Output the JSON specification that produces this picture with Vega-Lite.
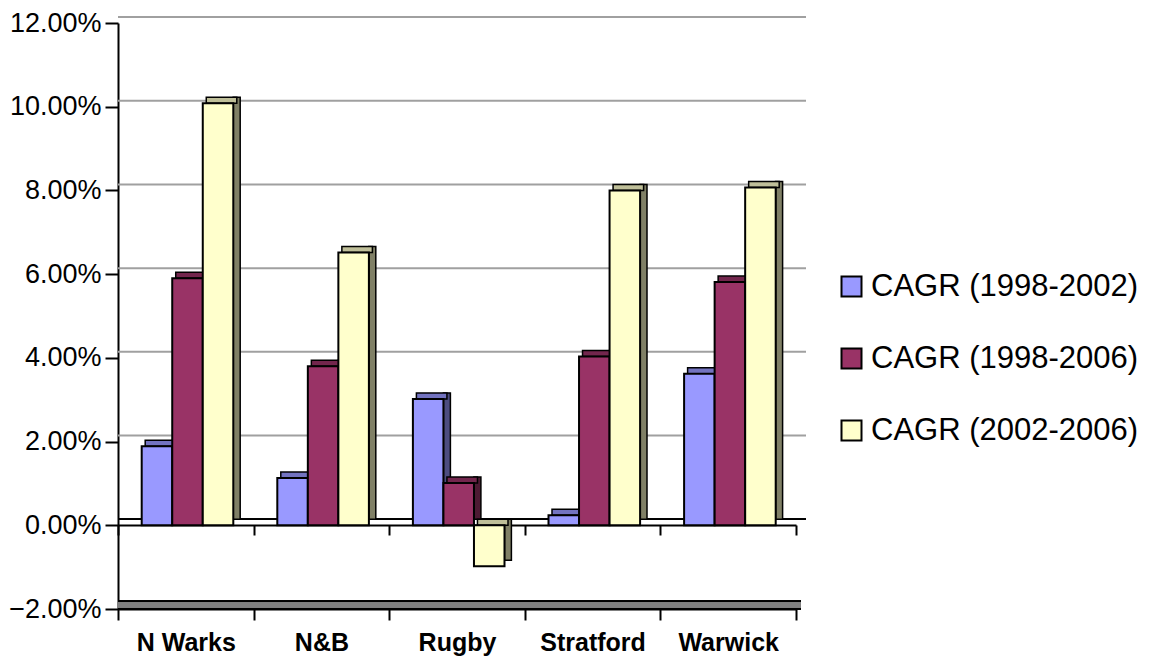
{
  "$schema": "https://vega.github.io/schema/vega-lite/v6.json",
  "width": 678,
  "height": 586,
  "autosize": "none",
  "padding": {"left": 118, "top": 23, "right": 357, "bottom": 49},
  "background": "white",
  "config": {
    "view": {"stroke": null},
    "font": "Liberation Sans",
    "axis": {"labelFont": "Liberation Sans", "labelColor": "black"},
    "axisY": {"title": null, "format": ".2%",
              "grid": false, "domainColor": "black", "domainWidth": 2, "tickColor": "black", "tickWidth": 2,
              "tickSize": 13, "labelFontSize": 27, "labelPadding": 4}
  },
  "datasets": {
    "bars": [
      {"region": "N Warks", "series": "CAGR (1998-2002)", "value": 0.0189},
      {"region": "N Warks", "series": "CAGR (1998-2006)", "value": 0.0590},
      {"region": "N Warks", "series": "CAGR (2002-2006)", "value": 0.1008},
      {"region": "N&B", "series": "CAGR (1998-2002)", "value": 0.0113},
      {"region": "N&B", "series": "CAGR (1998-2006)", "value": 0.0380},
      {"region": "N&B", "series": "CAGR (2002-2006)", "value": 0.0652},
      {"region": "Rugby", "series": "CAGR (1998-2002)", "value": 0.0302},
      {"region": "Rugby", "series": "CAGR (1998-2006)", "value": 0.0101},
      {"region": "Rugby", "series": "CAGR (2002-2006)", "value": -0.0098},
      {"region": "Stratford", "series": "CAGR (1998-2002)", "value": 0.0024},
      {"region": "Stratford", "series": "CAGR (1998-2006)", "value": 0.0403},
      {"region": "Stratford", "series": "CAGR (2002-2006)", "value": 0.0800},
      {"region": "Warwick", "series": "CAGR (1998-2002)", "value": 0.0362},
      {"region": "Warwick", "series": "CAGR (1998-2006)", "value": 0.0581},
      {"region": "Warwick", "series": "CAGR (2002-2006)", "value": 0.0807}
    ],
    "grid": [
      {"level": 0.02}, {"level": 0.04}, {"level": 0.06},
      {"level": 0.08}, {"level": 0.10}, {"level": 0.12}
    ]
  },
  "resolve": {
    "scale": {"xOffset": "independent", "color": "independent"},
    "axis": {"x": "independent"}
  },
  "layer": [
    {
      "data": {"name": "grid"},
      "mark": {"type": "rule", "color": "#a0a0a0", "strokeWidth": 2, "xOffset": 10, "yOffset": -6, "clip": false},
      "encoding": {
        "y": {"field": "level", "type": "quantitative", "scale": {"domain": [-0.02, 0.12], "nice": false, "zero": false},
              "axis": {"title": null, "values": [-0.02, 0, 0.02, 0.04, 0.06, 0.08, 0.1, 0.12]}}
      }
    },
    {
      "data": {"name": "grid"},
      "mark": {"type": "rule", "color": "black", "strokeWidth": 1.5, "xOffset": 10, "yOffset": -6},
      "encoding": {
        "y": {"datum": 0, "type": "quantitative", "axis": {"title": null, "values": [-0.02, 0, 0.02, 0.04, 0.06, 0.08, 0.1, 0.12]}}
      }
    },
    {
      "data": {"name": "grid"},
      "mark": {"type": "rule", "color": "black", "strokeWidth": 9, "xOffset": 5, "yOffset": -4},
      "encoding": {
        "y": {"datum": -0.02, "type": "quantitative", "axis": {"title": null, "values": [-0.02, 0, 0.02, 0.04, 0.06, 0.08, 0.1, 0.12]}}
      }
    },
    {
      "data": {"name": "grid"},
      "mark": {"type": "rule", "color": "#808080", "strokeWidth": 5, "xOffset": 5, "yOffset": -4},
      "encoding": {
        "y": {"datum": -0.02, "type": "quantitative", "axis": {"title": null, "values": [-0.02, 0, 0.02, 0.04, 0.06, 0.08, 0.1, 0.12]}}
      }
    },
    {
      "data": {"name": "bars"},
      "mark": {"type": "bar", "stroke": "black", "strokeWidth": 1.5, "yOffset": -6},
      "encoding": {
        "x": {"field": "region", "type": "nominal", "sort": null,
              "scale": {"paddingInner": 0, "paddingOuter": 0},
              "axis": {"orient": "bottom", "offset": -84, "labels": false, "title": null, "tickBand": "extent",
                       "domainColor": "black", "domainWidth": 2, "tickColor": "black", "tickWidth": 2, "tickSize": 10}},
        "xOffset": {"field": "series", "type": "nominal",
                    "scale": {"range": [54.2, 122.2], "paddingInner": 0.7705, "paddingOuter": 0}},
        "y": {"field": "value", "type": "quantitative", "axis": {"title": null, "values": [-0.02, 0, 0.02, 0.04, 0.06, 0.08, 0.1, 0.12]}},
        "color": {"field": "series", "type": "nominal", "legend": null,
                  "scale": {"range": ["#4d4d80", "#4d1a33", "#808066"]}}
      }
    },
    {
      "data": {"name": "bars"},
      "transform": [{"calculate": "max(datum.value, 0)", "as": "top"}],
      "mark": {"type": "bar", "stroke": "black", "strokeWidth": 1.5, "yOffset": -6},
      "encoding": {
        "x": {"field": "region", "type": "nominal", "sort": null, "axis": null},
        "xOffset": {"field": "series", "type": "nominal",
                    "scale": {"range": [27.2, 118.8], "paddingInner": 0, "paddingOuter": 0}},
        "y": {"field": "top", "type": "quantitative", "axis": {"title": null, "values": [-0.02, 0, 0.02, 0.04, 0.06, 0.08, 0.1, 0.12]}},
        "y2": {"field": "top"},
        "color": {"field": "series", "type": "nominal", "legend": null,
                  "scale": {"range": ["#7373c0", "#73264d", "#bfbf99"]}}
      }
    },
    {
      "data": {"name": "bars"},
      "mark": {"type": "bar", "stroke": "black", "strokeWidth": 2},
      "encoding": {
        "x": {"field": "region", "type": "nominal", "sort": null,
              "axis": {"orient": "bottom", "title": null, "tickBand": "extent", "labelAngle": 0,
                       "domainColor": "black", "domainWidth": 2, "tickColor": "black", "tickWidth": 2, "tickSize": 11,
                       "labelFontSize": 25, "labelFontWeight": "bold", "labelPadding": 10}},
        "xOffset": {"field": "series", "type": "nominal",
                    "scale": {"range": [23.7, 115.3], "paddingInner": 0, "paddingOuter": 0}},
        "y": {"field": "value", "type": "quantitative", "axis": {"title": null, "values": [-0.02, 0, 0.02, 0.04, 0.06, 0.08, 0.1, 0.12]}},
        "color": {"field": "series", "type": "nominal",
                  "scale": {"range": ["#9999ff", "#993366", "#ffffcc"]},
                  "legend": {"title": null, "orient": "none", "legendX": 718, "legendY": 248,
                             "symbolType": "square", "symbolSize": 400, "symbolStrokeColor": "black",
                             "symbolStrokeWidth": 2, "symbolOpacity": 1, "labelFontSize": 31, "labelLimit": 400,
                             "labelFont": "Liberation Sans", "labelColor": "black", "labelOffset": 4,
                             "rowPadding": 40, "padding": 0}}
      }
    }
  ]
}
